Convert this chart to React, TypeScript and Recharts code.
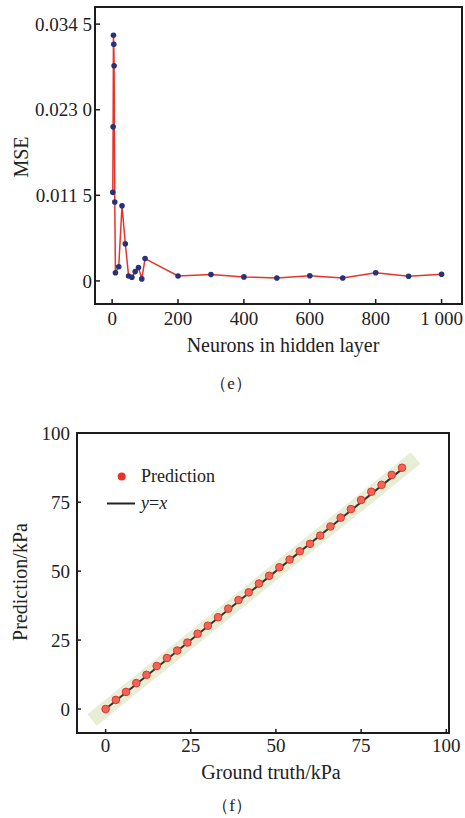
import {
  ComposedChart,
  Line,
  Scatter,
  XAxis,
  YAxis,
  ReferenceArea,
  Legend,
} from "recharts";

// (e) MSE vs neurons
const neurons = [2, 3, 4, 5, 6, 8, 10, 20, 30, 40, 50, 60, 70, 80, 90, 100, 200, 300, 400, 500, 600, 700, 800, 900, 1000];
const mseValues = [
  0.0119, 0.0207, 0.033, 0.0318, 0.0289, 0.0106, 0.0011, 0.0019, 0.0101, 0.005, 0.00067, 0.0005, 0.00125, 0.0018,
  0.00027, 0.003, 0.00067, 0.00085, 0.00054, 0.0004, 0.0007, 0.0004, 0.0011, 0.00063, 0.0009,
];
const mseTicks = [0, 0.0115, 0.023, 0.0345];
const mseTickLabels = ["0", "0.011 5", "0.023 0", "0.034 5"];
const neuronTicks = [0, 200, 400, 600, 800, 1000];
const neuronTickLabels = ["0", "200", "400", "600", "800", "1 000"];

// (f) prediction vs ground truth
const groundTruth = [0, 3, 6, 9, 12, 15, 18, 21, 24, 27, 30, 33, 36, 39, 42, 45, 48, 51, 54, 57, 60, 63, 66, 69, 72, 75, 78, 81, 84, 87];
const prediction = [
  0, 3.3, 6.2, 9.4, 12.4, 15.6, 18.5, 21.2, 24.1, 27.3, 30.2, 33.3, 36.4, 39.5, 42.3, 45.5, 48.3, 51.4, 54.2, 57.2,
  59.9, 62.9, 66.2, 69.4, 72.5, 75.8, 78.8, 81.3, 84.9, 87.5,
];
const identityEnds = [0, 87];
const bandEnds = [-4, 91];
const kpaTicks = [0, 25, 50, 75, 100];

const FONT = '"Liberation Serif", serif';
const INK = "#1c1c1c";

const mseDomainX = [-52, 1062];
const mseDomainY = [-0.0031, 0.0368];
const kpaDomainX = [-8.4, 100.8];
const kpaDomainY = [-8.7, 100.1];

const mseData = neurons.map((n, i) => ({ x: n, y: mseValues[i] }));
const predData = groundTruth.map((g, i) => ({ x: g, y: prediction[i] }));
const identityData = identityEnds.map((v) => ({ x: v, y: v }));
const bandData = bandEnds.map((v) => ({ x: v, y: v }));

const tickStyle = { fill: "#222", fontSize: 19, fontFamily: FONT };
const axisLineStyle = { stroke: INK, strokeWidth: 2 };
const tickLineStyle = { stroke: INK, strokeWidth: 1.5 };

function PredictionLegend() {
  return (
    <div style={{ fontFamily: FONT, fontSize: 18, color: "#222", lineHeight: "27px" }}>
      <div style={{ display: "flex", alignItems: "center" }}>
        <svg width={34} height={27}>
          <circle cx={14.7} cy={13.5} r={4} fill="#e8322a" />
        </svg>
        <span>Prediction</span>
      </div>
      <div style={{ display: "flex", alignItems: "center" }}>
        <svg width={34} height={27}>
          <line x1={0} x2={28} y1={13.5} y2={13.5} stroke="#222" strokeWidth={2} />
        </svg>
        <span>
          <i>y</i>=<i>x</i>
        </span>
      </div>
    </div>
  );
}

const textBox = (x: number, y: number, rotate = false): React.CSSProperties => ({
  position: "absolute",
  left: x,
  top: y,
  transform: `translate(-50%, -50%)${rotate ? " rotate(-90deg)" : ""}`,
  whiteSpace: "nowrap",
  fontFamily: FONT,
  color: "#222",
  lineHeight: 1,
});

export default function App() {
  return (
    <div style={{ position: "absolute", left: 0, top: 0, width: 465, height: 818, background: "#fff", fontFamily: FONT }}>
      <div style={{ position: "absolute", left: 0, top: 0 }}>
        <ComposedChart width={465} height={330} data={mseData} margin={{ top: 7, right: 3, left: 0, bottom: 0 }}>
          <XAxis
            type="number"
            dataKey="x"
            domain={mseDomainX}
            allowDataOverflow
            ticks={neuronTicks}
            interval={0}
            tickFormatter={(v: number) => neuronTickLabels[neuronTicks.indexOf(v)] ?? String(v)}
            height={26}
            tickSize={-5}
            tickMargin={13}
            axisLine={axisLineStyle}
            tickLine={tickLineStyle}
            tick={tickStyle}
          />
          <YAxis
            type="number"
            dataKey="y"
            domain={mseDomainY}
            allowDataOverflow
            ticks={mseTicks}
            interval={0}
            tickFormatter={(v: number) => mseTickLabels[mseTicks.indexOf(v)] ?? String(v)}
            width={95}
            tickSize={-5}
            tickMargin={8}
            axisLine={axisLineStyle}
            tickLine={tickLineStyle}
            tick={tickStyle}
          />
          <ReferenceArea
            x1={mseDomainX[0]}
            x2={mseDomainX[1]}
            y1={mseDomainY[0]}
            y2={mseDomainY[1]}
            fill="none"
            stroke={INK}
            strokeWidth={2}
          />
          <Line
            type="linear"
            dataKey="y"
            stroke="#e8332b"
            strokeWidth={1.5}
            dot={{ r: 2.8, fill: "#26337a", stroke: "none" }}
            isAnimationActive={false}
          />
        </ComposedChart>
      </div>
      <div style={{ ...textBox(21, 157, true), fontSize: 20 }}>MSE</div>
      <div style={{ ...textBox(283, 345), fontSize: 20 }}>Neurons in hidden layer</div>
      <div style={{ ...textBox(231, 383), fontSize: 17 }}>（e）</div>

      <div style={{ position: "absolute", left: 0, top: 420 }}>
        <ComposedChart width={465} height={340} margin={{ top: 13, right: 16, left: 0, bottom: 0 }}>
          <XAxis
            type="number"
            dataKey="x"
            domain={kpaDomainX}
            allowDataOverflow
            ticks={kpaTicks}
            interval={0}
            height={27}
            tickSize={-4}
            tickMargin={10}
            axisLine={axisLineStyle}
            tickLine={tickLineStyle}
            tick={tickStyle}
          />
          <YAxis
            type="number"
            dataKey="y"
            domain={kpaDomainY}
            allowDataOverflow
            ticks={kpaTicks}
            interval={0}
            width={77}
            tickSize={-4}
            tickMargin={11}
            axisLine={axisLineStyle}
            tickLine={tickLineStyle}
            tick={tickStyle}
          />
          <ReferenceArea
            x1={kpaDomainX[0]}
            x2={kpaDomainX[1]}
            y1={kpaDomainY[0]}
            y2={kpaDomainY[1]}
            fill="none"
            stroke={INK}
            strokeWidth={2}
          />
          <Line
            data={bandData}
            type="linear"
            dataKey="y"
            stroke="#e8eed6"
            strokeWidth={15}
            strokeLinecap="butt"
            dot={false}
            activeDot={false}
            isAnimationActive={false}
          />
          <Line
            data={identityData}
            type="linear"
            dataKey="y"
            stroke="#2b3a28"
            strokeWidth={2}
            dot={false}
            activeDot={false}
            isAnimationActive={false}
          />
          <Scatter
            data={predData}
            dataKey="y"
            isAnimationActive={false}
            shape={(p: any) => (
              <circle cx={p.cx} cy={p.cy} r={3.8} fill="#f0655a" stroke="#e3342a" strokeWidth={1} />
            )}
          />
          <Legend
            layout="vertical"
            align="center"
            verticalAlign="middle"
            content={() => <PredictionLegend />}
            wrapperStyle={{ left: 107, top: 42.5, width: "auto", height: "auto" }}
          />
        </ComposedChart>
      </div>
      <div style={{ ...textBox(20, 582, true), fontSize: 20 }}>Prediction/kPa</div>
      <div style={{ ...textBox(271, 772), fontSize: 20 }}>Ground truth/kPa</div>
      <div style={{ ...textBox(232, 805), fontSize: 17 }}>（f）</div>
    </div>
  );
}
